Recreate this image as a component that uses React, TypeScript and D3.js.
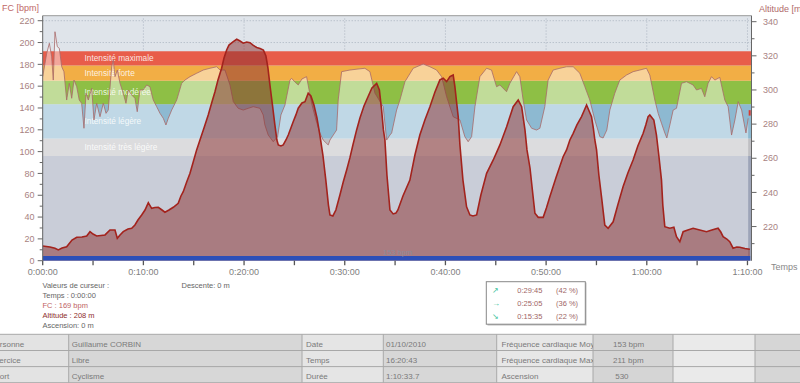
import React from 'react';
import * as d3 from 'd3';

// ---------- data ----------
const hrTime = [0, 0.4, 0.66, 0.89, 1.05, 1.22, 1.45, 1.65, 1.89, 2.11, 2.38, 2.64, 2.88, 3.11, 3.38, 3.63, 3.87, 4.1, 4.3, 4.53, 4.87, 5.09, 5.36, 5.69, 6.02, 6.29, 6.51, 6.85, 7.01, 7.18, 7.41, 7.68, 8.0, 8.27, 8.5, 8.84, 9.16, 9.39, 9.66, 9.99, 10.33, 10.65, 10.98, 11.32, 11.65, 11.98, 12.24, 12.47, 12.81, 13.31, 13.8, 14.13, 14.63, 15.29, 15.95, 16.61, 17.28, 17.61, 18.1, 18.6, 18.93, 19.42, 19.92, 20.42, 20.91, 21.58, 21.9, 22.07, 22.4, 22.9, 23.33, 23.66, 24.06, 24.56, 24.72, 25.05, 25.38, 25.75, 26.21, 26.71, 27.14, 27.53, 27.86, 28.36, 28.53, 28.86, 29.19, 29.35, 29.69, 30.51, 31.31, 32.0, 32.5, 33.0, 33.82, 34.16, 34.49, 34.66, 35.15, 35.48, 35.98, 36.8, 37.79, 38.46, 39.12, 39.62, 40.12, 40.77, 41.44, 41.93, 42.26, 42.6, 42.93, 43.42, 44.09, 44.58, 45.08, 45.41, 46.07, 46.4, 47.07, 47.39, 47.72, 48.06, 48.56, 49.05, 49.38, 49.87, 50.2, 50.7, 51.37, 52.03, 52.69, 53.35, 53.85, 54.34, 54.84, 55.34, 55.66, 56.03, 56.33, 56.82, 57.32, 57.99, 58.64, 59.31, 59.97, 60.3, 60.8, 61.13, 61.46, 61.79, 61.99, 62.29, 62.62, 62.95, 63.45, 63.95, 64.6, 64.94, 65.43, 65.76, 66.09, 66.43, 66.76, 67.25, 67.75, 68.08, 68.42, 68.75, 69.08, 69.42, 69.85, 70.07];
const hrBpm = [168.7, 190.1, 199.3, 187.0, 165.6, 209.9, 196.2, 194.7, 177.8, 173.3, 147.3, 162.6, 148.9, 165.6, 159.5, 147.3, 144.3, 121.4, 153.5, 147.3, 158.0, 129.0, 144.3, 132.0, 144.3, 135.1, 138.1, 177.8, 184.0, 168.7, 174.8, 162.6, 153.5, 144.3, 156.5, 151.9, 148.9, 136.6, 156.5, 156.5, 161.1, 159.5, 147.3, 141.2, 135.1, 130.5, 124.4, 130.5, 138.1, 147.3, 162.6, 165.6, 168.7, 171.8, 174.8, 176.4, 177.8, 174.8, 174.8, 161.1, 145.8, 139.7, 138.1, 139.7, 141.2, 139.7, 133.6, 124.4, 115.2, 109.1, 113.7, 133.6, 142.7, 165.6, 167.2, 163.8, 161.1, 166.6, 168.7, 144.3, 129.0, 117.1, 110.6, 106.1, 110.6, 115.2, 119.8, 147.3, 173.3, 174.8, 175.7, 176.4, 173.3, 153.5, 141.2, 110.6, 115.2, 117.1, 138.1, 147.3, 164.1, 176.4, 180.3, 177.8, 174.8, 168.7, 150.3, 132.0, 129.0, 113.7, 109.1, 113.7, 141.2, 168.7, 176.4, 174.8, 159.5, 161.1, 154.9, 162.6, 173.3, 168.7, 147.3, 129.0, 121.4, 119.8, 121.4, 141.2, 165.6, 174.8, 176.4, 177.8, 177.8, 171.8, 159.5, 147.3, 129.0, 113.7, 112.5, 119.8, 138.1, 153.5, 165.6, 170.2, 173.3, 174.8, 176.4, 170.2, 147.3, 135.1, 126.0, 117.1, 112.5, 124.4, 138.1, 139.7, 162.6, 164.1, 161.1, 156.5, 158.0, 150.3, 162.6, 168.7, 165.6, 168.1, 147.3, 141.2, 115.2, 129.0, 145.8, 138.1, 117.1, 130.5];

const altTime = [0, 0.72, 1.22, 1.55, 1.92, 2.38, 2.91, 3.38, 3.9, 4.37, 4.7, 5.0, 5.36, 5.79, 6.19, 6.68, 7.18, 7.41, 7.68, 8.0, 8.47, 8.84, 9.16, 9.46, 9.83, 10.16, 10.49, 10.82, 11.15, 11.48, 11.85, 12.14, 12.54, 12.97, 13.46, 13.73, 13.96, 14.3, 14.63, 14.95, 15.29, 15.62, 16.02, 16.44, 16.81, 17.11, 17.41, 17.77, 18.01, 18.27, 18.5, 18.93, 19.27, 19.6, 19.92, 20.26, 20.59, 20.92, 21.26, 21.59, 21.92, 22.17, 22.37, 22.57, 22.82, 23.06, 23.26, 23.4, 23.66, 23.89, 24.16, 24.39, 24.65, 24.88, 25.15, 25.38, 25.75, 26.05, 26.37, 26.64, 26.94, 27.24, 27.53, 27.83, 28.12, 28.38, 28.53, 28.82, 29.12, 29.52, 29.85, 30.19, 30.51, 30.81, 31.18, 31.51, 31.91, 32.3, 32.7, 33.17, 33.44, 33.66, 33.84, 33.99, 34.19, 34.49, 34.81, 35.08, 35.28, 35.78, 36.47, 36.97, 37.46, 37.96, 38.46, 38.96, 39.45, 39.78, 40.12, 40.45, 40.77, 40.94, 41.14, 41.27, 41.44, 41.74, 42.1, 42.43, 42.73, 43.1, 43.52, 44.09, 44.75, 45.41, 46.08, 46.73, 47.23, 47.57, 47.9, 48.1, 48.4, 48.69, 48.89, 49.22, 49.71, 50.03, 50.37, 50.97, 51.69, 52.03, 52.36, 52.69, 53.06, 53.52, 54.02, 54.51, 54.69, 54.84, 55.01, 55.24, 55.5, 55.83, 56.16, 56.66, 57.12, 57.65, 58.12, 58.64, 59.11, 59.64, 59.9, 60.13, 60.3, 60.7, 60.96, 61.19, 61.46, 61.59, 61.79, 62.29, 62.69, 62.95, 63.28, 63.61, 64.08, 64.6, 65.26, 65.93, 66.46, 67.08, 67.35, 67.58, 67.95, 68.24, 68.57, 68.94, 69.24, 69.74, 70.24];
const altMeters = [208.6, 208.0, 207.3, 206.3, 207.4, 208.2, 212.1, 213.7, 213.9, 214.5, 217.0, 215.6, 214.5, 214.8, 215.1, 218.0, 218.0, 213.1, 215.1, 217.0, 218.6, 219.0, 220.9, 223.8, 226.8, 229.7, 234.0, 230.7, 231.2, 231.3, 229.7, 228.4, 229.7, 231.3, 233.6, 237.9, 240.4, 246.1, 251.2, 257.8, 264.9, 270.7, 277.7, 285.4, 292.9, 299.0, 305.9, 312.7, 318.7, 323.4, 326.3, 328.3, 329.7, 328.7, 327.4, 328.1, 327.7, 326.1, 324.9, 324.3, 323.4, 319.9, 312.9, 302.9, 291.2, 279.5, 270.7, 267.8, 267.2, 267.8, 270.7, 273.6, 277.7, 281.4, 285.4, 289.3, 292.4, 293.1, 298.1, 296.5, 291.2, 283.6, 273.6, 261.9, 247.2, 232.6, 226.8, 226.2, 229.7, 238.5, 246.1, 253.1, 260.2, 267.8, 276.6, 283.6, 290.6, 295.9, 301.2, 303.9, 300.0, 288.3, 276.6, 270.7, 250.2, 229.7, 227.4, 227.9, 229.7, 237.9, 247.2, 261.9, 273.6, 282.4, 290.2, 298.8, 305.9, 306.9, 304.9, 307.8, 308.8, 301.9, 291.2, 284.4, 267.8, 247.2, 231.6, 226.8, 226.2, 226.8, 238.5, 251.2, 259.0, 267.8, 278.5, 290.2, 294.1, 290.2, 276.6, 264.9, 254.3, 238.5, 227.8, 225.4, 225.4, 230.9, 237.5, 248.4, 260.9, 264.9, 270.7, 274.6, 279.5, 284.4, 291.2, 284.4, 277.7, 270.7, 264.9, 250.2, 237.5, 220.9, 219.0, 222.8, 232.6, 243.4, 251.4, 259.0, 267.2, 274.6, 279.5, 284.4, 285.4, 282.4, 273.6, 261.9, 247.2, 232.6, 219.9, 219.0, 219.6, 214.1, 211.1, 217.0, 218.0, 219.0, 218.0, 217.0, 218.0, 219.0, 216.8, 214.1, 212.7, 211.1, 207.3, 208.0, 207.9, 207.1, 206.7];

const zoneBounds = [96, 112, 143.5, 165, 179, 192];
const zoneNames = ['Intensité très légère', 'Intensité légère', 'Intensité modérée', 'Intensité forte', 'Intensité maximale'];
const zoneColors = ['#bfbfc3', '#8db9d1', '#8ebf45', '#f2ae45', '#e85d4a'];

const xMajorTicks = [0, 10, 20, 30, 40, 50, 60, 70];
const xTickLabels = ['0:00:00', '0:10:00', '0:20:00', '0:30:00', '0:40:00', '0:50:00', '1:00:00', '1:10:00'];
const xMinorTicks = [5, 15, 25, 35, 45, 55, 65];
const hrTicks = [0, 20, 40, 60, 80, 100, 120, 140, 160, 180, 200, 220];
const hrMinorTicks = [10, 30, 50, 70, 90, 110, 130, 150, 170, 190, 210];
const altTicks = [220, 240, 260, 280, 300, 320, 340];
const altMinorTicks = [210, 230, 250, 270, 290, 310, 330];
const hrGrid = [200, 220];

const cursorLines = ['Valeurs de curseur :', 'Temps : 0:00:00', 'FC : 169 bpm', 'Altitude : 208 m', 'Ascension: 0 m'];
const cursorColors = ['#666', '#666', '#c06464', '#8e2e2e', '#666'];

const legendArrows = ['↗', '→', '↘'];
const legendTimes = ['0:29:45', '0:25:05', '0:15:35'];
const legendPcts = ['(42 %)', '(36 %)', '(22 %)'];

const tableRows = [
  ['Personne', 'Guillaume CORBIN', 'Date', '01/10/2010', 'Fréquence cardiaque Moyenne', '153 bpm', '', ''],
  ['Exercice', 'Libre', 'Temps', '16:20:43', 'Fréquence cardiaque Maximale', '211 bpm', '', ''],
  ['Sport', 'Cyclisme', 'Durée', '1:10:33.7', 'Ascension', ' 530', '', ''],
];
const tableColX = [0, 68.7, 302, 383.3, 496.7, 593, 673, 755, 800];
const tableColFill = ['#e3e3e3', '#d7d7d7', '#e5e5e5', '#d7d7d7', '#e7e7e7', '#d5d5d5', '#eaeaea', '#d6d6d6'];
const tableTextX = [-10, 71.7, 306, 386, 501.5, 613, 677, 759];
const tableRowY = [334.3, 350.5, 366.6, 382.7];

// ---------- layout ----------
const W = 800, H = 383;
const X0 = 42.7, X1 = 751.5, YT = 15.7, YB = 260.7;
const FONT = '"Liberation Sans", Arial, sans-serif';

export default function App() {
  const x = d3.scaleLinear().domain([0, 70.4]).range([X0, X1]);
  const yHr = d3.scaleLinear().domain([0, 224.6]).range([YB, YT]);
  const yAlt = d3.scaleLinear().domain([200, 343.5]).range([YB, YT]);

  const hrData = hrTime.map((t, i) => [t, hrBpm[i]] as [number, number]);
  const altData = altTime.map((t, i) => [t, altMeters[i]] as [number, number]);

  const hrArea = d3.area<[number, number]>().x(d => x(d[0])).y0(yHr(0)).y1(d => yHr(d[1]))(hrData) || '';
  const hrLine = d3.line<[number, number]>().x(d => x(d[0])).y(d => yHr(d[1]))(hrData) || '';
  const altArea = d3.area<[number, number]>().x(d => x(d[0])).y0(yAlt(200)).y1(d => yAlt(d[1]))(altData) || '';
  const altLine = d3.line<[number, number]>().x(d => x(d[0])).y(d => yAlt(d[1]))(altData) || '';

  const tEnd = hrTime[hrTime.length - 1];

  return (
    <svg width={W} height={H} style={{ position: 'absolute', left: 0, top: 0, background: '#fff' }} fontFamily={FONT}>
      <defs>
        <clipPath id="plotClip"><rect x={X0} y={YT} width={X1 - X0} height={YB - YT} /></clipPath>
        {tableColX.slice(0, -1).map((cx, i) => (
          <clipPath key={i} id={`col${i}`}><rect x={cx} y={tableRowY[0]} width={tableColX[i + 1] - cx} height={tableRowY[3] - tableRowY[0]} /></clipPath>
        ))}
      </defs>

      {/* plot backgrounds */}
      <rect x={X0} y={YT} width={X1 - X0} height={YB - YT} fill="#dfe4ea" />
      <rect x={X0} y={yHr(zoneBounds[0])} width={X1 - X0} height={YB - yHr(zoneBounds[0])} fill="#9da4b8" />

      {/* grid */}
      {xMajorTicks.slice(1).map(t => (
        <line key={t} x1={x(t)} x2={x(t)} y1={yHr(222)} y2={yHr(192)} stroke="#aab2bf" strokeDasharray="1,2" />
      ))}
      {hrGrid.map(v => (
        <line key={v} x1={X0} x2={X1} y1={yHr(v)} y2={yHr(v)} stroke="#aab2bf" strokeDasharray="1,2" />
      ))}

      {/* zones */}
      {zoneNames.map((n, i) => (
        <rect key={n} x={X0} y={yHr(zoneBounds[i + 1])} width={X1 - X0} height={yHr(zoneBounds[i]) - yHr(zoneBounds[i + 1])} fill={zoneColors[i]} />
      ))}
      {zoneNames.map((n, i) => (
        <text key={n} x={84.5} y={(yHr(zoneBounds[i + 1]) + yHr(zoneBounds[i])) / 2 + 3} fontSize={8.3} fill="#fff" fillOpacity={0.85}>{n}</text>
      ))}

      <g clipPath="url(#plotClip)">
        {/* heart rate */}
        <path d={hrArea} fill="#fff" fillOpacity={0.45} />
        <path d={hrLine} fill="none" stroke="#a86a6a" strokeWidth={0.8} />
        {/* altitude */}
        <path d={altArea} fill="#8c3232" fillOpacity={0.52} />
        <path d={altLine} fill="none" stroke="#a3231d" strokeWidth={1.6} />
        {/* bottom bar */}
        <rect x={x(0)} y={yHr(4.3)} width={x(tEnd) - x(0) + 2} height={yHr(0) - yHr(4.3)} fill="#2c4fb8" />
        <rect x={x(tEnd) + 0.5} y={yHr(138)} width={2} height={yHr(133) - yHr(138)} fill="#d83a30" />
      </g>
      <text x={383} y={255} fontSize={7.5} fill="#8a8c9c">153 bpm</text>

      {/* frame */}
      <line x1={X0} x2={X1} y1={YT} y2={YT} stroke="#9a9a9a" />
      <line x1={X0} x2={X0} y1={YT} y2={YB} stroke="#666" />
      <line x1={X1} x2={X1} y1={YT} y2={YB} stroke="#666" />

      {/* left axis */}
      {hrTicks.map(v => (
        <g key={v}>
          <line x1={X0 - 5} x2={X0} y1={yHr(v)} y2={yHr(v)} stroke="#666" />
          <text x={34.5} y={yHr(v) + 3.2} fontSize={9} fill="#a88282" textAnchor="end">{v}</text>
        </g>
      ))}
      {hrMinorTicks.map(v => (
        <line key={v} x1={X0 - 3} x2={X0} y1={yHr(v)} y2={yHr(v)} stroke="#666" />
      ))}
      <text x={2} y={11} fontSize={9} fill="#c06868">FC [bpm]</text>

      {/* right axis */}
      {altTicks.map(v => (
        <g key={v}>
          <line x1={X1} x2={X1 + 5} y1={yAlt(v)} y2={yAlt(v)} stroke="#666" />
          <text x={763} y={yAlt(v) + 3.2} fontSize={9} fill="#a88282">{v}</text>
        </g>
      ))}
      {altMinorTicks.map(v => (
        <line key={v} x1={X1} x2={X1 + 3} y1={yAlt(v)} y2={yAlt(v)} stroke="#666" />
      ))}
      <text x={759} y={12} fontSize={9} fill="#b06a6a">Altitude  [m]</text>

      {/* x axis */}
      {xMajorTicks.map((t, i) => (
        <g key={t}>
          <line x1={x(t)} x2={x(t)} y1={YB} y2={YB + 4.5} stroke="#555" strokeWidth={1.3} />
          <text x={x(t)} y={275} fontSize={9} fill="#808080" textAnchor="middle">{xTickLabels[i]}</text>
        </g>
      ))}
      {xMinorTicks.map(t => (
        <line key={t} x1={x(t)} x2={x(t)} y1={YB} y2={YB + 4.5} stroke="#555" strokeWidth={1.3} />
      ))}
      <text x={771} y={270} fontSize={9} fill="#888">Temps</text>

      {/* cursor values */}
      {cursorLines.map((s, i) => (
        <text key={s} x={42.5} y={287.5 + i * 10.2} fontSize={7.5} fill={cursorColors[i]}>{s}</text>
      ))}
      <text x={181.5} y={287.5} fontSize={7.5} fill="#666">Descente: 0 m</text>

      {/* legend box */}
      <rect x={487.5} y={282.5} width={99} height={43} fill="#bbb" />
      <rect x={486.3} y={281.7} width={99} height={42.5} fill="#fff" stroke="#888" />
      {legendArrows.map((a, i) => (
        <g key={i}>
          <text x={492} y={293 + i * 13.2} fontSize={8} fill="#3cbf9c">{a}</text>
          <text x={517.3} y={293 + i * 13.2} fontSize={7.5} fill="#a06666">{legendTimes[i]}</text>
          <text x={556} y={293 + i * 13.2} fontSize={7.5} fill="#a06666">{legendPcts[i]}</text>
        </g>
      ))}

      {/* table */}
      {tableColX.slice(0, -1).map((cx, i) => (
        <rect key={i} x={cx} y={tableRowY[0]} width={tableColX[i + 1] - cx} height={tableRowY[3] - tableRowY[0]} fill={tableColFill[i]} />
      ))}
      {tableRowY.map((ry, i) => (
        <line key={i} x1={0} x2={W} y1={ry} y2={ry} stroke="#a8a8a8" />
      ))}
      {tableColX.slice(1, -1).map((cx, i) => (
        <line key={i} x1={cx} x2={cx} y1={tableRowY[0]} y2={tableRowY[3]} stroke="#a8a8a8" />
      ))}
      {tableRows.map((row, r) => row.map((cell, c) => cell ? (
        <text key={`${r}-${c}`} x={tableTextX[c]} y={tableRowY[r] + 12.5} fontSize={8} fill="#7a7a7a" clipPath={`url(#col${c})`} xmlSpace="preserve">{cell}</text>
      ) : null))}
    </svg>
  );
}
